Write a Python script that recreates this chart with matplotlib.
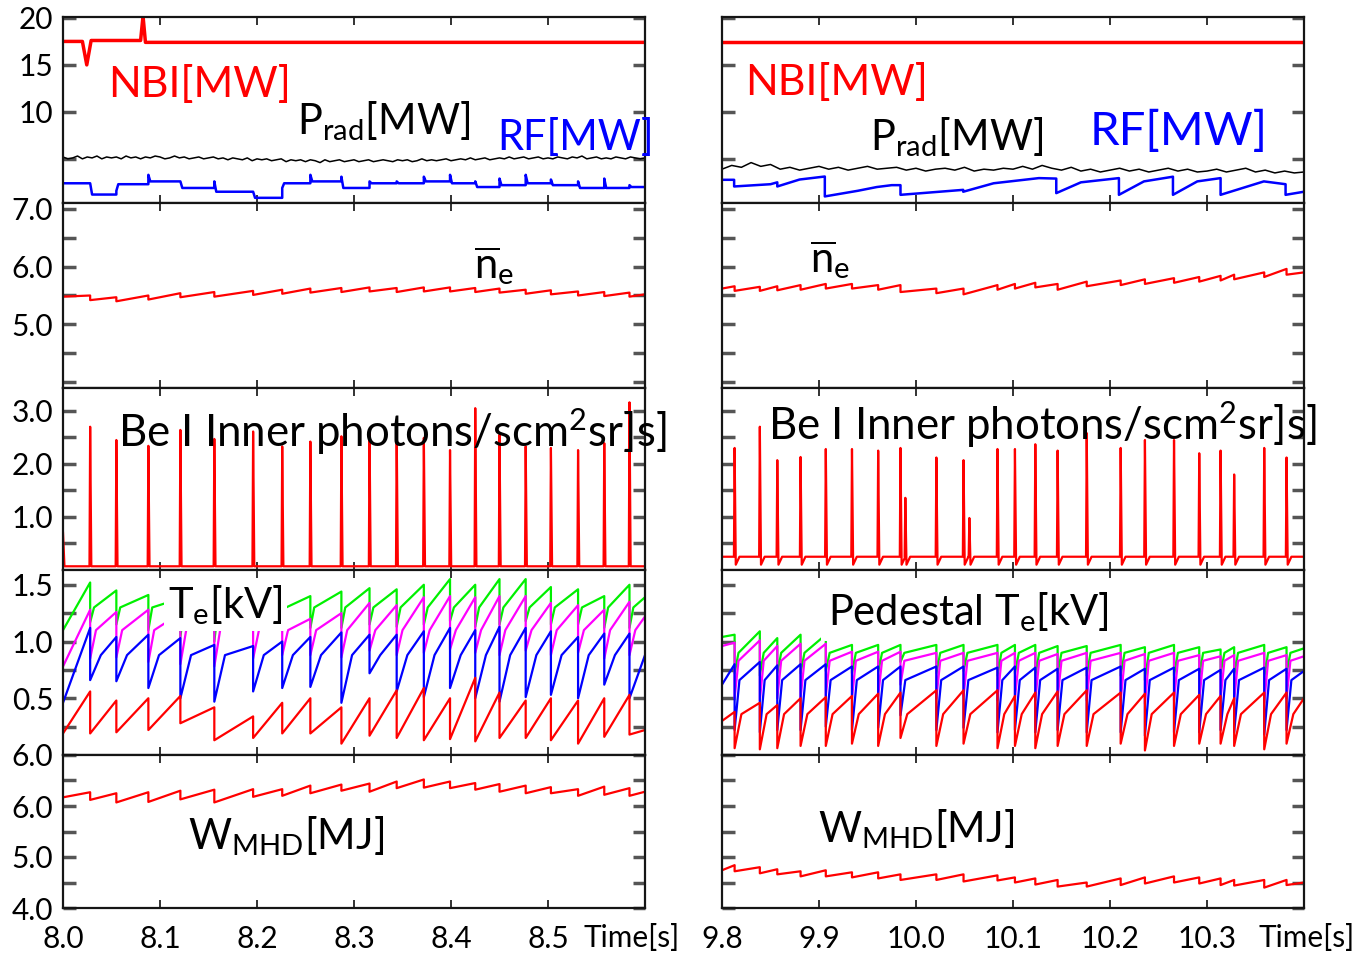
import numpy as np
import matplotlib.pyplot as plt

plt.rcParams['font.family'] = ['Lato', 'DejaVu Sans']
plt.rcParams['mathtext.fontset'] = 'custom'
plt.rcParams['mathtext.rm'] = 'Lato'
plt.rcParams['mathtext.it'] = 'Lato:italic'
plt.rcParams['mathtext.bf'] = 'Lato:bold'

W, H = 1358, 955
RED, BLUE, GREEN, MAG = '#ff0000', '#0000ff', '#00f000', '#ff00ff'

elm_l = [8.028, 8.055, 8.088, 8.121, 8.156, 8.196, 8.226, 8.255, 8.287, 8.316,
         8.344, 8.372, 8.399, 8.425, 8.450, 8.477, 8.503, 8.531, 8.558, 8.584]
elm_r = [9.813, 9.839, 9.857, 9.881, 9.907, 9.934, 9.961, 9.984, 10.021, 10.049,
         10.084, 10.102, 10.123, 10.146, 10.176, 10.211, 10.236, 10.266, 10.292,
         10.314, 10.328, 10.359, 10.382]

# --- heating / radiation [MW] ---
nbi_l_t = [8.0, 8.020, 8.0245, 8.029, 8.080, 8.0825, 8.085, 8.6]
nbi_l = [17.5, 17.5, 15.0, 17.6, 17.6, 20.2, 17.4, 17.4]
nbi_r_t = [9.8, 10.4]
nbi_r = [17.4, 17.4]

prad_l = [5.2, 5.0, 5.1, 5.3, 5.0, 5.2, 5.1, 5.3, 5.0, 5.2, 5.1, 5.2, 5.0, 5.3, 5.1, 5.2,
          5.0, 5.2, 5.1, 5.3, 5.2, 5.0, 5.1, 5.3, 5.1, 5.2, 5.0, 5.1, 5.2, 5.0, 5.1, 5.2,
          5.0, 5.1, 4.9, 5.1, 5.0, 4.9, 5.1, 4.8, 5.0, 4.9, 5.0, 4.8, 4.9, 5.0, 4.7, 4.9,
          4.8, 4.9, 4.7, 4.9, 4.8, 4.6, 4.9, 4.7, 4.8, 4.9, 4.7, 4.8, 4.9, 4.7, 4.8, 4.9,
          4.7, 4.8, 4.9, 4.8, 4.7, 4.9, 4.8, 4.9, 4.7, 4.8, 5.0, 4.8, 4.9, 4.8, 4.9, 5.0,
          4.8, 4.9, 5.0, 4.9, 5.1, 4.9, 5.0, 5.1, 4.9, 5.0, 5.1, 5.0, 5.2, 5.0, 5.1, 5.2,
          5.0, 5.1, 5.2, 5.0, 5.1, 5.0, 5.2, 5.1, 5.0, 5.2, 5.1, 5.3, 5.0, 5.1, 5.2, 5.0,
          5.1, 5.0, 5.2, 5.1, 5.0, 5.2, 5.1, 5.0, 5.1]
prad_r = [3.9, 4.3, 4.1, 4.6, 4.2, 4.4, 3.9, 4.1, 3.8, 4.0,
          4.2, 3.9, 4.1, 3.8, 4.0, 4.2, 3.9, 4.0, 4.1, 3.8,
          4.0, 3.7, 3.9, 4.0, 3.8, 4.1, 3.7, 3.9, 3.8, 4.0,
          3.9, 4.2, 3.9, 4.3, 4.0, 3.8, 4.1, 3.7, 3.9, 3.6,
          3.8, 4.0, 3.7, 3.9, 3.6, 3.8, 4.0, 3.7, 3.9, 3.6,
          3.7, 3.9, 3.6, 3.8, 4.0, 3.6, 3.8, 3.5, 3.7, 3.5, 3.6]

rf_l_start = 2.4
rf_l_jump = [2.4, 1.6, 3.3, 2.6, 2.6, 1.5, 1.9, 3.3, 3.1, 2.6,
             2.6, 3.1, 3.3, 2.6, 2.9, 3.3, 2.8, 2.6, 2.9, 2.2]
rf_l_level = [1.2, 2.3, 2.6, 1.9, 1.5, 0.85, 2.4, 2.6, 1.9, 2.4,
              2.4, 2.6, 2.4, 2.0, 2.2, 2.4, 2.2, 1.9, 1.9, 2.0]
rf_r_t = [9.800, 9.8125, 9.8125, 9.850, 9.857, 9.857, 9.880, 9.906, 9.906, 9.940, 9.9596,
          9.975, 9.984, 9.984, 10.0487, 10.0487, 10.080, 10.1267, 10.1446, 10.1446, 10.170,
          10.2092, 10.2092, 10.235, 10.2649, 10.2649, 10.290, 10.314, 10.314, 10.3586,
          10.381, 10.381, 10.4]
rf_r = [2.77, 2.77, 2.06, 2.3, 2.5, 2.06, 2.8, 3.12, 1.0, 1.6, 2.0,
        2.2, 2.2, 1.17, 1.7, 1.5, 2.4, 2.95, 2.9, 1.35, 2.5,
        2.95, 1.17, 2.6, 3.1, 1.17, 2.6, 2.95, 1.17, 2.6,
        2.3, 1.17, 1.5]

# --- line averaged density ---
ne_l_pre = [5.50, 5.47, 5.50, 5.54, 5.56, 5.58, 5.60, 5.62, 5.63, 5.64,
            5.63, 5.64, 5.64, 5.63, 5.62, 5.60, 5.59, 5.57, 5.56, 5.55]
ne_l_post = [5.42, 5.40, 5.43, 5.47, 5.48, 5.51, 5.53, 5.55, 5.56, 5.57,
             5.56, 5.57, 5.57, 5.56, 5.55, 5.53, 5.52, 5.50, 5.49, 5.48]
ne_r_pre = [5.66, 5.65, 5.66, 5.68, 5.70, 5.70, 5.68, 5.68, 5.62, 5.62, 5.68, 5.70,
            5.72, 5.70, 5.74, 5.76, 5.78, 5.80, 5.82, 5.84, 5.86, 5.90, 5.96]
ne_r_post = [5.58, 5.58, 5.59, 5.60, 5.62, 5.62, 5.60, 5.56, 5.54, 5.52, 5.60, 5.62,
             5.64, 5.60, 5.66, 5.68, 5.70, 5.72, 5.74, 5.76, 5.78, 5.82, 5.86]

# --- Be I inner ---
bei_l_peak = [2.70, 2.45, 2.34, 2.64, 2.47, 2.61, 2.33, 2.42, 2.52, 2.59,
              2.58, 2.49, 2.26, 3.05, 2.55, 2.33, 2.30, 2.26, 2.39, 3.16]
bei_r_peak = [2.30, 2.70, 2.07, 2.13, 2.28, 2.28, 2.25, 2.30, 2.12, 2.07, 2.28, 2.28,
              2.37, 2.25, 2.58, 2.30, 2.45, 2.45, 2.20, 2.25, 1.80, 2.30, 2.12]
bei_r_extra_t = [9.989, 10.055]
bei_r_extra = [1.36, 0.98]

# --- Te [kV], left: 4 channels (pre-ELM, post-ELM, start, end, recovered level, recovery time) ---
te_l = {
    GREEN: ([1.52, 1.45, 1.41, 1.38, 1.35, 1.35, 1.38, 1.40, 1.44, 1.47,
             1.46, 1.50, 1.55, 1.50, 1.55, 1.55, 1.48, 1.46, 1.40, 1.50],
            [1.17, 1.15, 1.10, 1.04, 1.00, 1.10, 1.12, 1.12, 1.12, 1.15,
             1.13, 1.15, 1.18, 1.13, 1.15, 1.18, 1.15, 1.15, 1.12, 1.12],
            1.10, 1.39, 1.30, 0.004),
    MAG: ([1.28, 1.26, 1.28, 1.25, 1.23, 1.25, 1.27, 1.20, 1.25, 1.34,
           1.32, 1.39, 1.40, 1.39, 1.40, 1.40, 1.34, 1.32, 1.28, 1.35],
          [0.85, 0.86, 0.82, 0.80, 0.78, 0.85, 0.88, 0.88, 0.86, 0.92,
           0.88, 0.90, 0.93, 0.90, 0.88, 0.92, 0.88, 0.90, 0.85, 0.88],
          0.78, 1.22, 1.10, 0.006),
    BLUE: ([1.12, 1.04, 1.06, 1.03, 0.97, 0.96, 1.00, 1.04, 1.08, 1.06,
            1.06, 1.09, 1.12, 1.10, 1.13, 1.12, 1.09, 1.04, 1.07, 1.07],
           [0.66, 0.65, 0.59, 0.50, 0.47, 0.56, 0.59, 0.60, 0.46, 0.72,
            0.56, 0.51, 0.59, 0.50, 0.47, 0.51, 0.53, 0.50, 0.62, 0.50],
           0.46, 0.88, 0.88, 0.011),
    RED: ([0.56, 0.48, 0.50, 0.52, 0.42, 0.34, 0.46, 0.50, 0.42, 0.50,
           0.57, 0.59, 0.50, 0.68, 0.55, 0.48, 0.50, 0.48, 0.50, 0.53],
          [0.19, 0.20, 0.22, 0.28, 0.13, 0.15, 0.19, 0.19, 0.10, 0.17,
           0.15, 0.13, 0.14, 0.12, 0.15, 0.15, 0.13, 0.10, 0.16, 0.18],
          0.19, 0.22, None, 0.0),
}
# --- pedestal Te [kV], right ---
te_r = {
    GREEN: ([1.06, 1.09, 1.03, 1.06, 1.06, 0.97, 0.97, 0.97, 0.97, 0.97, 0.97, 0.97,
             0.97, 0.96, 0.96, 0.97, 0.95, 0.97, 0.95, 0.93, 0.95, 0.97, 0.95],
            [0.72, 0.70, 0.72, 0.72, 0.74, 0.72, 0.73, 0.82, 0.72, 0.74, 0.70, 0.72,
             0.70, 0.72, 0.70, 0.70, 0.66, 0.70, 0.70, 0.72, 0.70, 0.68, 0.72],
            1.04, 0.94, 0.90, 0.004),
    MAG: ([0.99, 1.01, 0.96, 0.98, 0.98, 0.91, 0.91, 0.91, 0.90, 0.90, 0.90, 0.90,
           0.90, 0.89, 0.90, 0.90, 0.89, 0.90, 0.88, 0.87, 0.88, 0.90, 0.88],
          [0.50, 0.48, 0.50, 0.50, 0.52, 0.50, 0.52, 0.62, 0.50, 0.52, 0.48, 0.50,
           0.48, 0.50, 0.48, 0.48, 0.45, 0.48, 0.48, 0.50, 0.48, 0.46, 0.50],
          0.96, 0.87, 0.83, 0.004),
    BLUE: ([0.80, 0.82, 0.79, 0.80, 0.80, 0.78, 0.78, 0.78, 0.78, 0.78, 0.77, 0.78,
            0.77, 0.76, 0.77, 0.78, 0.76, 0.77, 0.76, 0.75, 0.76, 0.77, 0.76],
           [0.22, 0.20, 0.22, 0.22, 0.25, 0.22, 0.24, 0.35, 0.22, 0.24, 0.20, 0.22,
            0.20, 0.22, 0.20, 0.20, 0.17, 0.20, 0.20, 0.22, 0.20, 0.18, 0.22],
           0.62, 0.74, 0.66, 0.005),
    RED: ([0.38, 0.46, 0.44, 0.50, 0.51, 0.52, 0.54, 0.55, 0.57, 0.57, 0.57, 0.52,
           0.55, 0.56, 0.57, 0.55, 0.54, 0.55, 0.53, 0.52, 0.50, 0.55, 0.55],
          [0.06, 0.05, 0.06, 0.08, 0.08, 0.10, 0.08, 0.15, 0.08, 0.10, 0.06, 0.08,
           0.06, 0.08, 0.08, 0.10, 0.04, 0.08, 0.10, 0.10, 0.08, 0.05, 0.10],
          0.30, 0.50, 0.36, 0.007),
}

# --- stored energy [MJ] ---
w_l_pre = [6.27, 6.25, 6.27, 6.30, 6.32, 6.33, 6.33, 6.40, 6.42, 6.44,
           6.48, 6.52, 6.48, 6.45, 6.43, 6.40, 6.37, 6.33, 6.38, 6.35]
w_l_post = [6.12, 6.07, 6.08, 6.13, 6.07, 6.18, 6.20, 6.25, 6.30, 6.28,
            6.35, 6.36, 6.35, 6.32, 6.28, 6.25, 6.25, 6.20, 6.22, 6.20]
w_r_pre = [4.84, 4.80, 4.76, 4.72, 4.74, 4.70, 4.70, 4.66, 4.66, 4.66, 4.64, 4.60,
           4.58, 4.55, 4.50, 4.58, 4.60, 4.62, 4.60, 4.58, 4.55, 4.55, 4.55]
w_r_post = [4.72, 4.68, 4.66, 4.62, 4.62, 4.60, 4.58, 4.55, 4.55, 4.52, 4.54, 4.50,
            4.46, 4.42, 4.42, 4.45, 4.48, 4.50, 4.48, 4.45, 4.44, 4.40, 4.45]


def elm_trace(times, pre, post, t0, v0, t1, v1, knee=None, dk=0.0):
    # crash at every ELM from pre to post value, recovery up to the next one
    x, y = [t0], [v0]
    for i, t in enumerate(times):
        x += [t, t]
        y += [pre[i], post[i]]
        nxt = pre[i + 1] if i + 1 < len(times) else v1
        if knee is not None and knee < nxt:
            x.append(t + dk)
            y.append(knee)
    x.append(t1)
    y.append(v1)
    return x, y


def spike_trace(times, peaks, base, t0, t1, dip=None):
    x, y = [t0], [base]
    for t, p in sorted(zip(times, peaks)):
        x += [t - 0.0007, t, t + 0.0012]
        y += [base, p, base if dip is None else dip]
        if dip is not None:
            x.append(t + 0.005)
            y.append(base)
    x.append(t1)
    y.append(base)
    return x, y


def rf_trace(times, jump, level, start, t0, t1):
    x, y, prev = [t0], [start], start
    for t, j, l in zip(times, jump, level):
        x += [t, t, t + 0.002]
        y += [prev, j, l]
        prev = l
    x.append(t1)
    y.append(prev)
    return x, y


fig = plt.figure(figsize=(W / 100, H / 100), dpi=100)
cols = [(63, 645), (722, 1304)]
rows = [(17, 203), (203, 388), (388, 570), (570, 755), (755, 908)]
xlims = [(8.0, 8.6), (9.8, 10.4)]
ylims = [(0.3, 20.1), (3.9, 7.1), (0.0, 3.43), (0.0, 1.63), (4.0, 7.0)]
yticks = [[5, 10, 15, 20],
          [4.0, 4.5, 5.0, 5.5, 6.0, 6.5, 7.0],
          [0.5, 1.0, 1.5, 2.0, 2.5, 3.0],
          [0.25, 0.5, 0.75, 1.0, 1.25, 1.5],
          [4.0, 4.5, 5.0, 5.5, 6.0, 6.5, 7.0]]
ylabels = [['', '10', '15', '20'],
           ['', '', '5.0', '', '6.0', '', '7.0'],
           ['', '1.0', '', '2.0', '', '3.0'],
           ['', '0.5', '', '1.0', '', '1.5'],
           ['4.0', '', '5.0', '', '6.0', '', '6.0']]
xticks = [[8.0, 8.1, 8.2, 8.3, 8.4, 8.5, 8.6], [9.8, 9.9, 10.0, 10.1, 10.2, 10.3, 10.4]]
xlabels = [['8.0', '8.1', '8.2', '8.3', '8.4', '8.5', ''],
           ['9.8', '9.9', '10.0', '10.1', '10.2', '10.3', '']]

axs = [[None, None] for _ in rows]
for r, (y0, y1) in enumerate(rows):
    for c, (x0, x1) in enumerate(cols):
        ax = fig.add_axes([x0 / W, 1 - y1 / H, (x1 - x0) / W, (y1 - y0) / H])
        ax.set_xlim(*xlims[c])
        ax.set_ylim(*ylims[r])
        ax.set_yticks(yticks[r])
        ax.set_yticklabels(ylabels[r] if c == 0 else [''] * len(yticks[r]))
        ax.set_xticks(xticks[c])
        ax.set_xticklabels(xlabels[c])
        ax.tick_params(axis='y', direction='in', length=9, width=2.5, color='#555555',
                       left=True, right=True, labelsize=21.5, pad=7)
        ax.tick_params(axis='x', direction='in', length=6, width=1.3, color='#222222',
                       top=True, bottom=True, labelsize=21.5, pad=12,
                       labelbottom=(r == len(rows) - 1))
        for s in ax.spines.values():
            s.set_linewidth(1.6)
            s.set_color('#151515')
        axs[r][c] = ax

# row 1: heating and radiation
a = axs[0][0]
a.plot(nbi_l_t, nbi_l, color=RED, lw=2.5)
a.plot(np.linspace(8.0, 8.6, len(prad_l)), prad_l, color='k', lw=1.1)
a.plot(*rf_trace(elm_l, rf_l_jump, rf_l_level, rf_l_start, 8.0, 8.6), color=BLUE, lw=1.8)
a = axs[0][1]
a.plot(nbi_r_t, nbi_r, color=RED, lw=2.5)
a.plot(np.linspace(9.8, 10.4, len(prad_r)), prad_r, color='k', lw=1.1)
a.plot(rf_r_t, rf_r, color=BLUE, lw=1.8)

# row 2: density
axs[1][0].plot(*elm_trace(elm_l, ne_l_pre, ne_l_post, 8.0, 5.48, 8.6, 5.52), color=RED, lw=1.6)
axs[1][1].plot(*elm_trace(elm_r, ne_r_pre, ne_r_post, 9.8, 5.62, 10.4, 5.90), color=RED, lw=1.6)

# row 3: Be I
xb, yb = spike_trace(elm_l, bei_l_peak, 0.07, 8.0015, 8.6)
axs[2][0].plot([8.0] + xb, [0.7] + yb, color=RED, lw=1.6)
axs[2][1].plot(*spike_trace(elm_r + bei_r_extra_t, bei_r_peak + bei_r_extra, 0.25,
                            9.8, 10.4, dip=0.1), color=RED, lw=1.6)

# row 4: Te
for col, (data, t0, t1, elms) in enumerate([(te_l, 8.0, 8.6, elm_l), (te_r, 9.8, 10.4, elm_r)]):
    for color, (pre, post, v0, v1, knee, dk) in data.items():
        axs[3][col].plot(*elm_trace(elms, pre, post, t0, v0, t1, v1, knee, dk),
                         color=color, lw=1.6)

# row 5: stored energy
axs[4][0].plot(*elm_trace(elm_l, w_l_pre, w_l_post, 8.0, 6.17, 8.6, 6.28), color=RED, lw=1.6)
axs[4][1].plot(*elm_trace(elm_r, w_r_pre, w_r_post, 9.8, 4.74, 10.4, 4.50), color=RED, lw=1.6)


def label(x, y, s, color='black', size=30, **kw):
    fig.text(x / W, 1 - y / H, s, color=color, fontsize=size, ha='left', va='baseline', **kw)


label(108, 97, 'NBI[MW]', RED, 31)
label(297, 134, r'P$_{\mathrm{rad}}$[MW]', 'black', 30)
label(497, 150, 'RF[MW]', BLUE, 30)
label(745, 95, 'NBI[MW]', RED, 31)
label(870, 150, r'P$_{\mathrm{rad}}$[MW]', 'black', 30)
label(1090, 145, 'RF[MW]', BLUE, 34)
label(474, 278, r'$\overline{\mathrm{n}}_{\mathrm{e}}$', 'black', 30)
label(810, 272, r'$\overline{\mathrm{n}}_{\mathrm{e}}$', 'black', 30)
label(118, 447, r'Be I Inner photons/scm$^{\mathrm{2}}$sr]s]', 'black', 31.5)
label(768, 440, r'Be I Inner photons/scm$^{\mathrm{2}}$sr]s]', 'black', 31.5)
label(168, 618, r'T$_{\mathrm{e}}$[kV]', 'black', 30,
      bbox=dict(facecolor='white', edgecolor='none', pad=3))
label(828, 625, r'Pedestal T$_{\mathrm{e}}$[kV]', 'black', 30,
      bbox=dict(facecolor='white', edgecolor='none', pad=5))
label(188, 849, r'W$_{\mathrm{MHD}}$[MJ]', 'black', 30)
label(818, 842, r'W$_{\mathrm{MHD}}$[MJ]', 'black', 30)

fig.text(632 / W, 1 - 938 / H, 'Time[s]', fontsize=21.5, ha='center', va='center')
fig.text(1307 / W, 1 - 938 / H, 'Time[s]', fontsize=21.5, ha='center', va='center')

fig.savefig('out.png', dpi=100)
